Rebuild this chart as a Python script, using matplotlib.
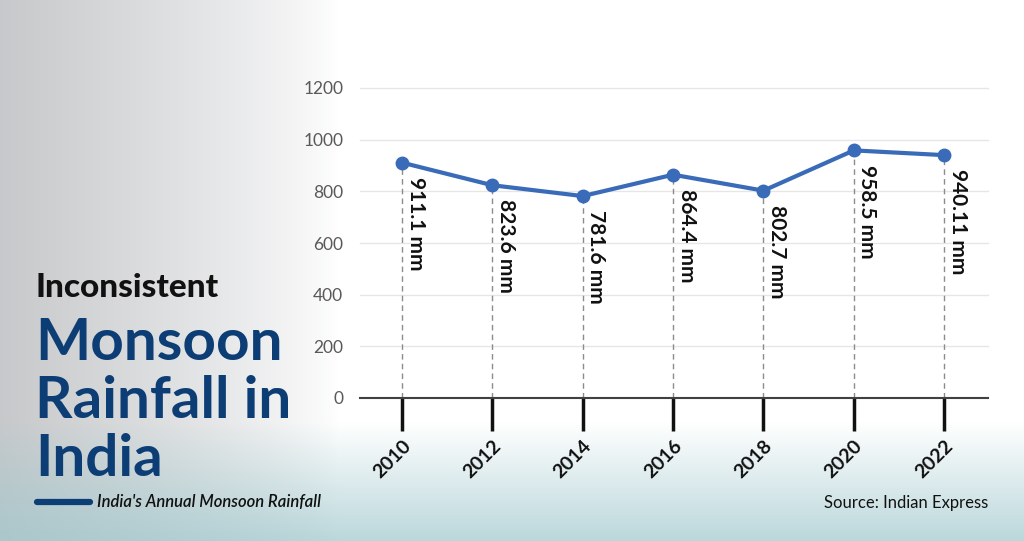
import numpy as np
import matplotlib.pyplot as plt

years = [2010, 2012, 2014, 2016, 2018, 2020, 2022]
rainfall = [911.1, 823.6, 781.6, 864.4, 802.7, 958.5, 940.11]
value_labels = ["911.1 mm", "823.6 mm", "781.6 mm", "864.4 mm", "802.7 mm", "958.5 mm", "940.11 mm"]
y_ticks = [0, 200, 400, 600, 800, 1000, 1200]

plt.rcParams['font.family'] = ['Lato', 'DejaVu Sans']

fig = plt.figure(figsize=(10.24, 5.41), dpi=100)

# background: grey misty photo on the left, water at the bottom
bg = fig.add_axes([0, 0, 1, 1])
h, w = 541, 1024
xx = np.linspace(0, 1, w)[None, :]
yy = np.linspace(0, 1, h)[:, None]
left_fade = np.clip((0.33 - xx) / 0.33, 0, 1) ** 0.8
bottom_fade = np.clip((yy - 0.78) / 0.22, 0, 1)
img = np.ones((h, w, 3))
grey = np.array([0.74, 0.75, 0.76])
water = np.array([0.62, 0.78, 0.80])
img = img * (1 - left_fade[..., None] * 0.85) + grey * left_fade[..., None] * 0.85
img = img * (1 - bottom_fade[..., None] * 0.7) + water * bottom_fade[..., None] * 0.7
bg.imshow(img, aspect='auto', extent=[0, 1, 0, 1], zorder=0)
bg.set_axis_off()

ax = fig.add_axes([360 / 1024, 1 - 398 / 541, 628 / 1024, 310 / 541])
ax.patch.set_alpha(0)
ax.set_xlim(2009.07, 2022.97)
ax.set_ylim(0, 1200)

for y in y_ticks[1:]:
    ax.axhline(y, color='#e6e6e6', lw=1, zorder=1, clip_on=False)

ax.vlines(years, 0, rainfall, colors='#8c8c8c', linestyles=(0, (4, 3)), lw=1, zorder=2)
ax.plot(years, rainfall, color='#3a6bb8', lw=3, marker='o', markersize=9, zorder=4, clip_on=False)

for x, y, lab in zip(years, rainfall, value_labels):
    ax.text(x + 0.08, y - 55, lab, rotation=-90, ha='left', va='top',
            fontsize=15, fontweight='bold', color='#111111', zorder=5)

ax.set_yticks(y_ticks)
ax.set_yticklabels([str(v) for v in y_ticks], fontsize=12.5, color='#595959')
ax.tick_params(axis='y', length=0, pad=12)
ax.set_xticks(years)
ax.set_xticklabels([str(v) for v in years], rotation=45, ha='right', va='top',
                   rotation_mode='anchor', fontsize=14, fontweight='bold', color='#111111')
ax.tick_params(axis='x', length=24, width=2.5, color='#111111', pad=4, direction='out')

for s in ['top', 'right', 'left']:
    ax.spines[s].set_visible(False)
ax.spines['bottom'].set_color('#404040')
ax.spines['bottom'].set_linewidth(1.5)

navy = '#0d3d75'
fig.text(35 / 1024, 1 - 297 / 541, "Inconsistent", fontsize=24, fontweight='black', color='#111111')
fig.text(35 / 1024, 1 - 360 / 541, "Monsoon", fontsize=42, fontweight='bold', color=navy)
fig.text(35 / 1024, 1 - 418 / 541, "Rainfall in", fontsize=42, fontweight='bold', color=navy)
fig.text(35 / 1024, 1 - 476 / 541, "India", fontsize=42, fontweight='bold', color=navy)

bg.plot([37 / 1024, 90 / 1024], [1 - 502 / 541, 1 - 502 / 541], color=navy, lw=4.5,
        solid_capstyle='round', zorder=3)
bg.set_xlim(0, 1)
bg.set_ylim(0, 1)
fig.text(97 / 1024, 1 - 502 / 541, "India's Annual Monsoon Rainfall", fontsize=12,
         fontstyle='italic', fontweight='semibold', color='#111111', va='center')
fig.text(988 / 1024, 1 - 503 / 541, "Source: Indian Express", fontsize=12,
         color='#111111', ha='right', va='center')

fig.savefig('out.png', dpi=100)
